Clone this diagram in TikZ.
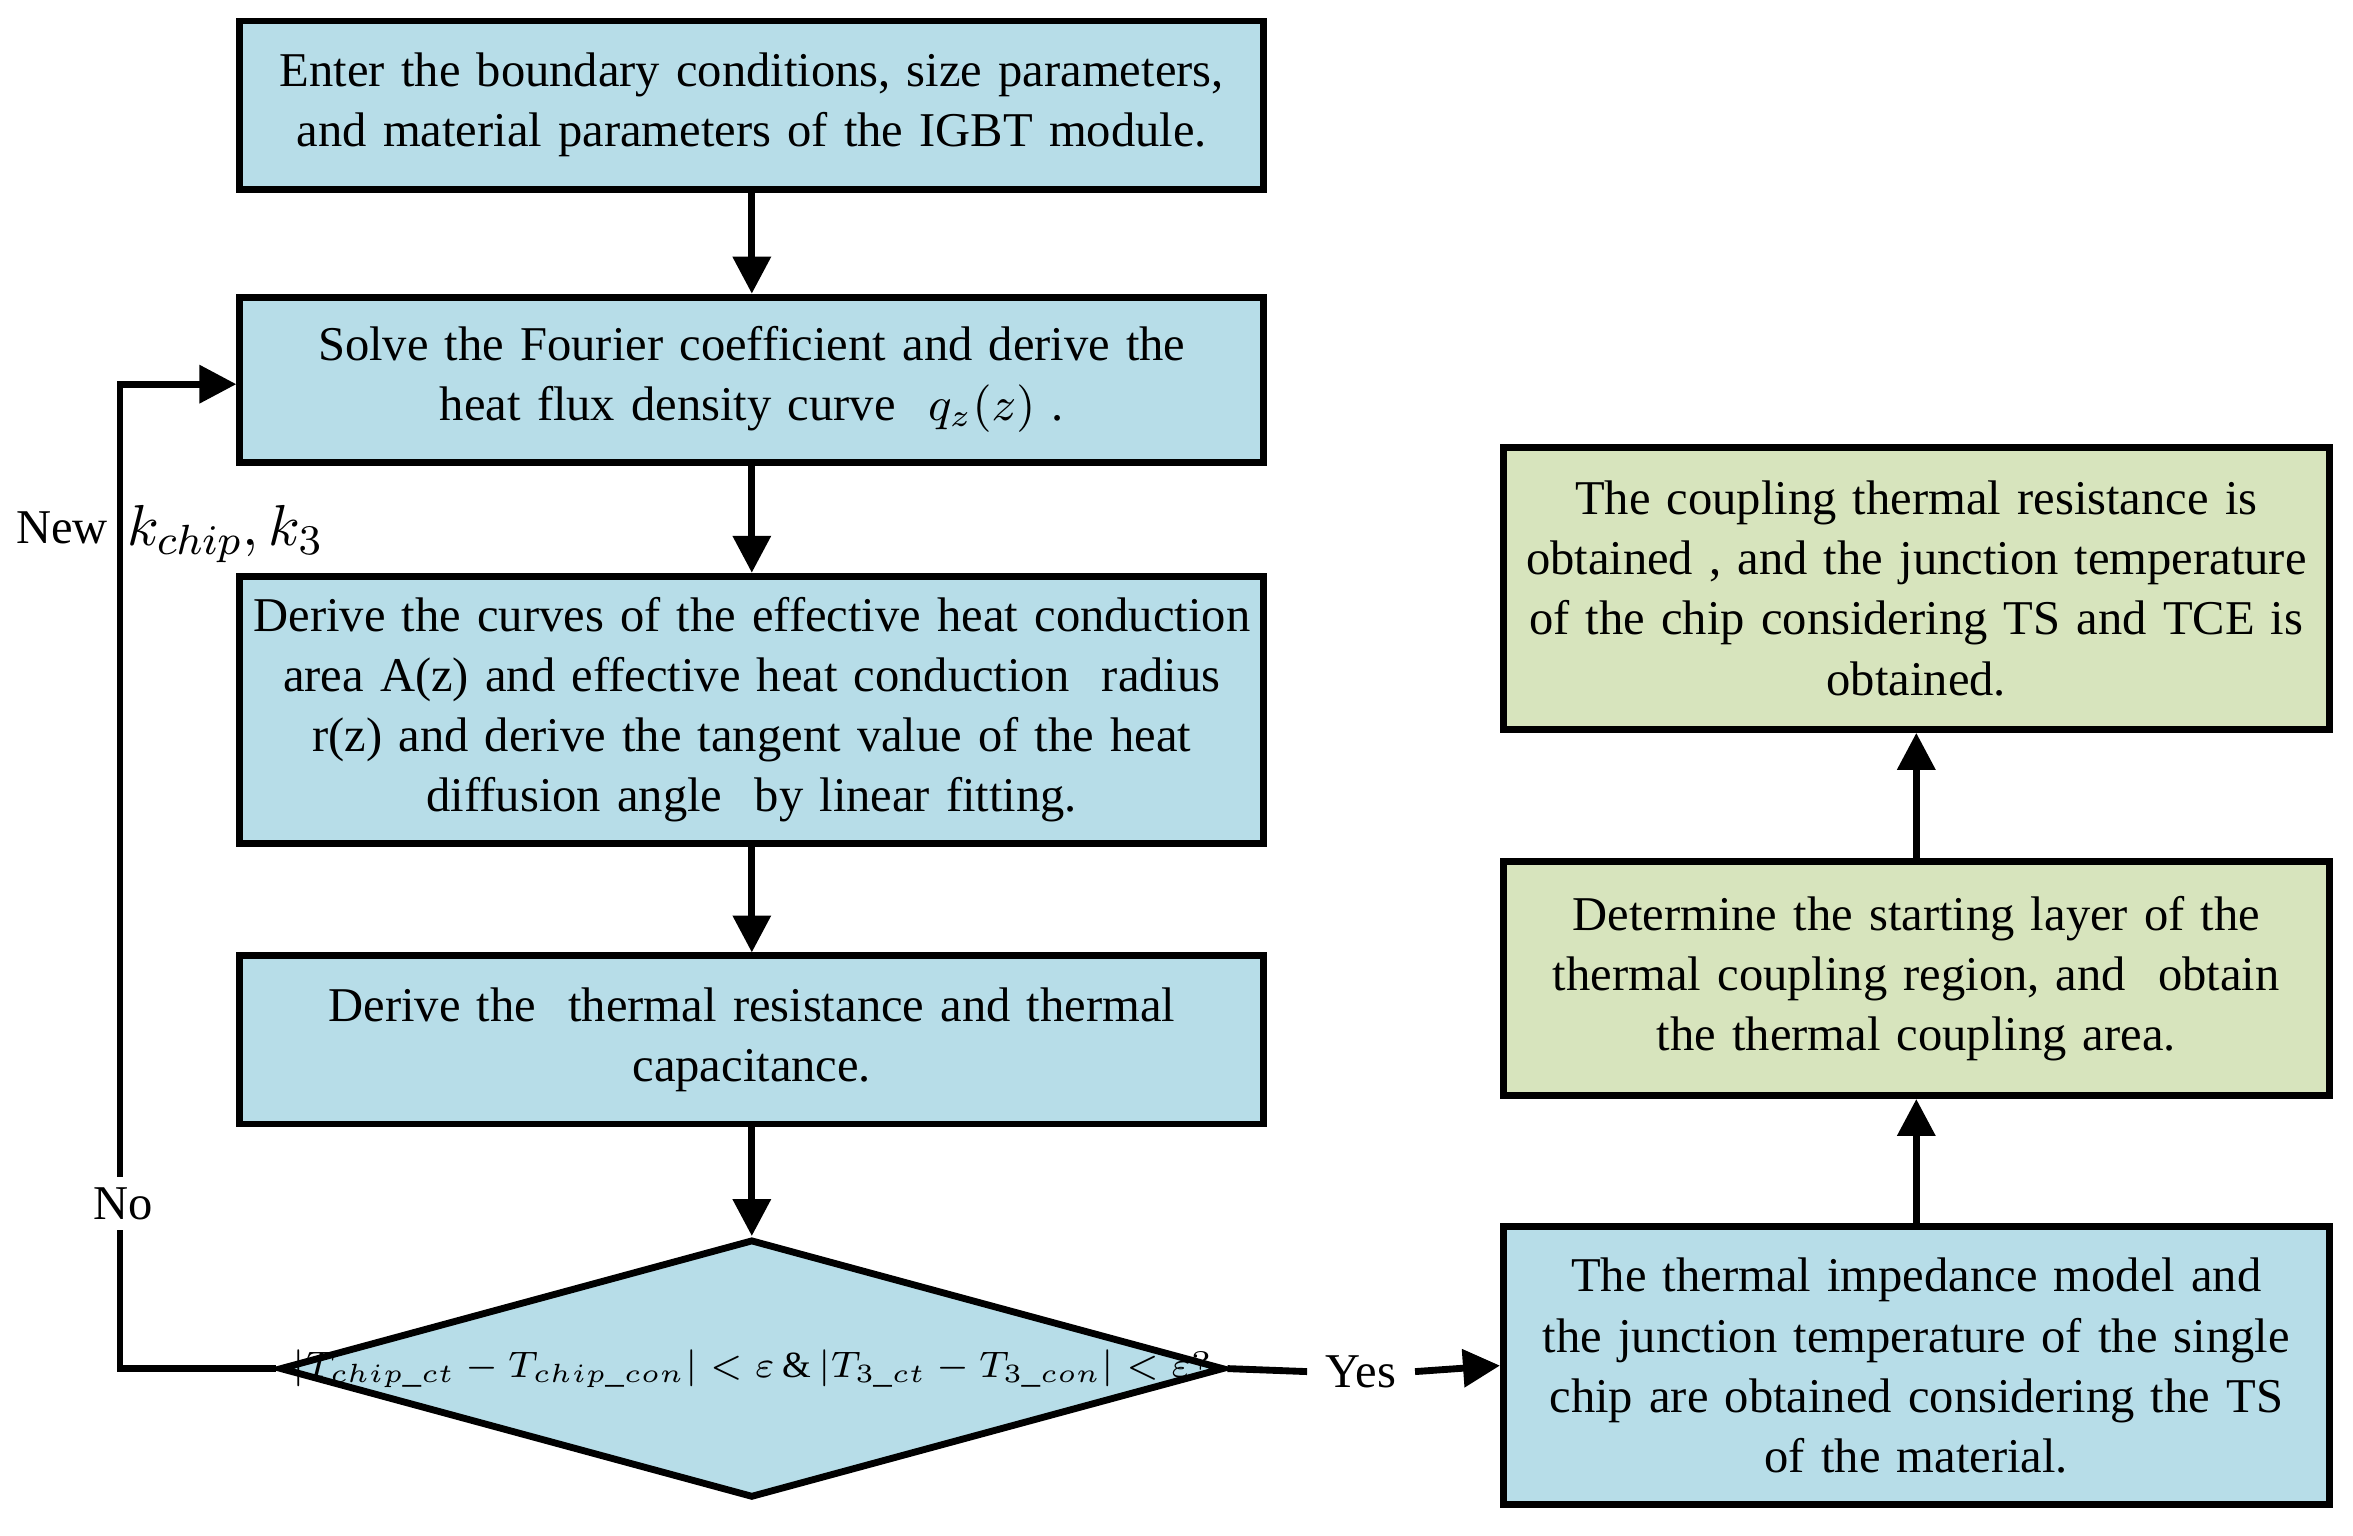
\documentclass[tikz,border=0pt]{standalone}
\usepackage{fontspec}
\setmainfont{Liberation Serif}
\usetikzlibrary{shapes.geometric,arrows.meta}
\definecolor{bl}{HTML}{B7DDE8}
\definecolor{gr}{HTML}{D7E4BD}
\begin{document}
\begin{tikzpicture}[x=0.01cm,y=-0.01cm,
  box/.style={draw,line width=1.3pt,fill=bl,minimum width=6.82cm,text width=6.82cm,inner sep=0pt,align=center,font=\fontsize{9.2}{11.4}\selectfont},
  rbox/.style={box,minimum width=5.5cm,text width=5.5cm},
  ar/.style={line width=1.3pt,-{Triangle[length=7pt,width=7pt]}}]
\useasboundingbox (0,0) rectangle (1568,1023);
\node[box,minimum height=1.12cm] (b1) at (501,70) {Enter the boundary conditions, size parameters,\\and material parameters of the IGBT module.};
\node[box,minimum height=1.10cm] (b2) at (501,253) {Solve the Fourier coefficient and derive the\\heat flux density curve \ $q_z(z)$ .};
\node[box,minimum height=1.78cm] (b3) at (501,473) {Derive the curves of the effective heat conduction\\area A(z) and effective heat conduction\ \ radius\\r(z) and derive the tangent value of the heat\\diffusion angle\ \ by linear fitting.};
\node[box,minimum height=1.12cm] (b4) at (501,693) {Derive the\ \ thermal resistance and thermal\\capacitance.};
\node[diamond,draw,line width=1.3pt,fill=bl,minimum width=6.29cm,minimum height=1.72cm,inner sep=0pt] (d) at (501,912) {};
\node[font=\fontsize{7}{8}\selectfont,inner sep=0pt] at (501,912) {$\left|T_{chip\_ct}-T_{chip\_con}\right|<\varepsilon\,\&\left|T_{3\_ct}-T_{3\_con}\right|<\varepsilon?$};
\node[rbox,minimum height=1.85cm] (r1) at (1277,910) {The thermal impedance model and\\the junction temperature of the single\\chip are obtained considering the TS\\of the material.};
\node[rbox,fill=gr,minimum height=1.56cm] (r2) at (1277,652) {Determine the starting layer of the\\thermal coupling region, and\ \ obtain\\the thermal coupling area.};
\node[rbox,fill=gr,minimum height=1.88cm] (r3) at (1277,392) {The coupling thermal resistance is\\obtained , and the junction temperature\\of the chip considering TS and TCE is\\obtained.};
\draw[ar] (b1) -- (b2);
\draw[ar] (b2) -- (b3);
\draw[ar] (b3) -- (b4);
\draw[ar] (b4) -- (d);
\draw[ar] (r1) -- (r2);
\draw[ar] (r2) -- (r3);
\coordinate (c1) at (80,912);
\coordinate (c2) at (80,256);
\draw[ar] (d.west) -- (c1) -- (c2) -- (b2.west |- c2);
\node[fill=white,inner sep=2pt,font=\fontsize{9.2}{11.4}\selectfont] (no) at (82,802) {No};
\node[font=\fontsize{9.2}{11.4}\selectfont,anchor=west,inner sep=0pt] (nw) at (10,352) {New};
\node[font=\fontsize{11}{13}\selectfont,anchor=west,inner sep=0pt] at (84,356) {$k_{chip},k_3$};
\node[font=\fontsize{9.2}{11.4}\selectfont] (yes) at (907,914) {Yes};
\draw[line width=1.3pt] (d.east) -- (yes.west);
\draw[ar] (yes.east) -- (r1.west);
\end{tikzpicture}
\end{document}
